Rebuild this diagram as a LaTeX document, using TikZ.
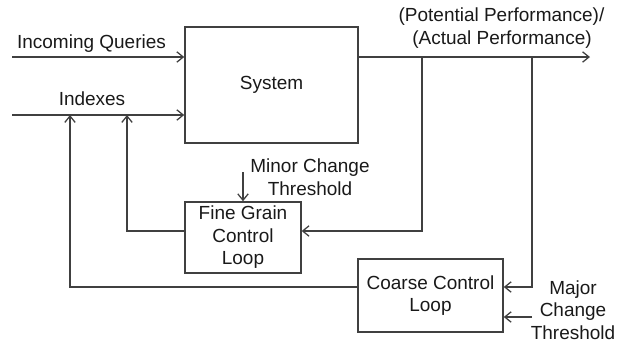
\documentclass[tikz,border=0pt]{standalone}
\usepackage{fontspec}
\setmainfont{Liberation Sans}
\usetikzlibrary{arrows.meta}

\begin{document}
\begin{tikzpicture}[x=0.025cm, y=-0.025cm, font=\fontsize{13.5}{16}\selectfont, >={Straight Barb[length=1.6mm, width=2.6mm]},
  line width=0.9pt, color=black!75, every node/.style={text=black!90},
  blk/.style={draw, align=center, inner sep=0pt}]
  \useasboundingbox (0,0) rectangle (619,345);
  % blocks
  \node[blk, minimum width=4.33cm, minimum height=2.9cm] (sys) at (271.5,85) {System};
  \node[blk, minimum width=2.9cm, minimum height=1.78cm] (fine) at (243,237.5) {Fine Grain\\Control\\Loop};
  \node[blk, minimum width=3.63cm, minimum height=1.83cm] (coarse) at (430.5,295.5) {Coarse Control\\Loop};
  % ports and free ends
  \coordinate (qin) at (12,57);
  \coordinate (idx) at (12,115);
  \coordinate (out) at (590,57);
  \coordinate (tapF) at (422,57);
  \coordinate (tapC) at (532,57);
  \coordinate (upF) at (127,115);
  \coordinate (upC) at (70,115);
  \coordinate (fineport) at (243,231);
  \coordinate (coarseport) at (430,287);
  \coordinate (minor) at (243,172);
  \coordinate (major) at (532,317);
  % inputs and output
  \draw[->] (qin) -- (qin -| sys.west);
  \draw[->] (idx) -- (idx -| sys.west);
  \draw[->] (out -| sys.east) -- (out);
  \node[anchor=base] (qlbl) at (91.5,48) {Incoming Queries};
  \node[anchor=base] (ilbl) at (92,105) {Indexes};
  \node[anchor=base] (plbl) at (501.5,21) {(Potential Performance)/};
  \node[anchor=base] (albl) at (502,44) {(Actual Performance)};
  % feedback loops
  \draw[->] (tapF) |- (fine.east |- fineport);
  \draw[->] (fine.west |- fineport) -| (upF);
  \draw[->] (tapC) |- (coarse.east |- coarseport);
  \draw[->] (coarse.west |- coarseport) -| (upC);
  % thresholds
  \draw[->] (minor) -- (fine.north);
  \draw[->] (major) -- (major -| coarse.east);
  \node[anchor=base, align=center] (mnlbl) at (310,195) {Minor Change\\Threshold};
  \node[anchor=base, align=center] (mjlbl) at (573,339) {Major\\Change\\Threshold};
\end{tikzpicture}
\end{document}
